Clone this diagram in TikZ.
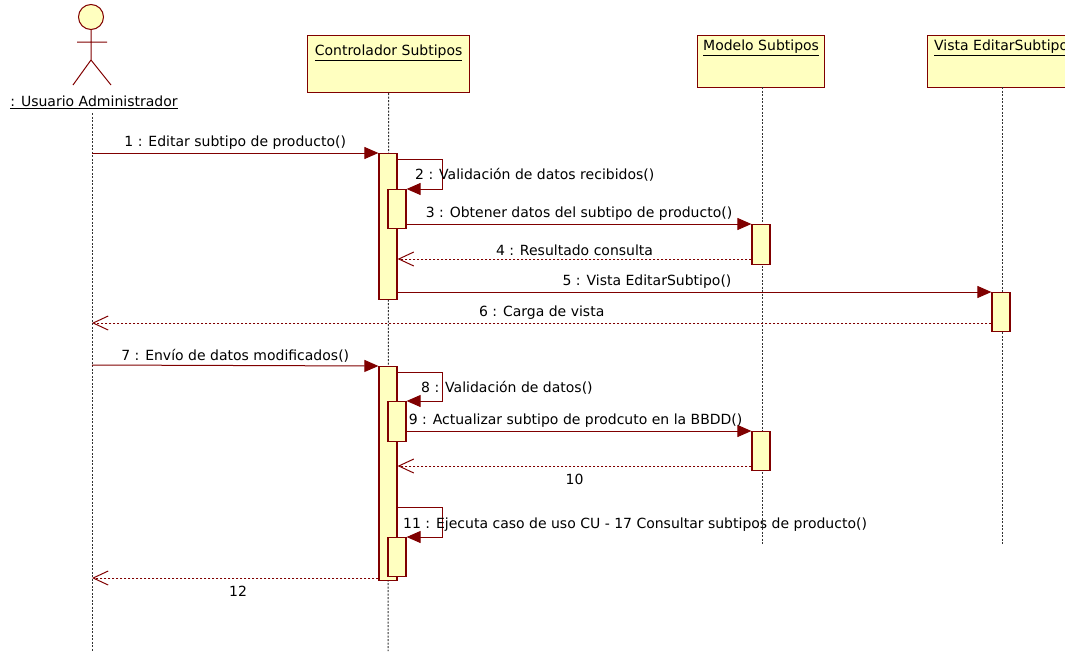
\documentclass[tikz,border=0pt]{standalone}
\usepackage{fontspec}
\setmainfont{DejaVu Sans}
\usetikzlibrary{arrows.meta,positioning}
\definecolor{umlred}{RGB}{128,0,0}
\definecolor{umlfill}{RGB}{255,255,192}
\tikzset{
	objbox/.style={draw=umlred, fill=umlfill, line width=1.2pt, anchor=north west, inner sep=0pt},
	actbox/.style={draw=umlred, fill=umlfill, line width=1.2pt, anchor=north, minimum width=18pt, inner sep=0pt},
	lifeline/.style={line width=1pt, black!80, dash pattern=on 2pt off 1.5pt},
	call/.style={umlred, line width=1pt, -{Triangle[length=14pt,width=12pt]}},
	reply/.style={umlred, line width=1pt, dash pattern=on 2.5pt off 1.5pt, -{Straight Barb[length=15pt,width=14pt,line width=1pt]}},
	lbl/.style={text=black, font=\fontsize{14}{16}\selectfont, inner sep=1pt}
}
\begin{document}
\begin{tikzpicture}[x=1pt,y=-1pt]
	\useasboundingbox (0,0) rectangle (1065,651);
	\clip (0,0) rectangle (1065,651);
	
	%actor
	\draw[umlred, fill=umlfill, line width=1pt] (91,17) circle (12.5);
	\draw[umlred, line width=1pt] (91,30)--(91,60) (77,42)--(107,42) (73,85)--(91,60)--(111,85);
	\node[lbl] (user) at (94,102) {\underline{: Usuario Administrador}};
	
	%objects
	\node[objbox, minimum width=162pt, minimum height=57pt] (ctrl) at (307,35) {};
	\node[lbl, below=9pt of ctrl.north] (ctrltxt) {\underline{Controlador Subtipos}};
	\node[objbox, minimum width=127pt, minimum height=52pt] (modelo) at (697,35) {};
	\node[lbl, below=4pt of modelo.north] (modelotxt) {\underline{Modelo Subtipos}};
	\node[objbox, minimum width=150pt, minimum height=52pt] (vista) at (927,35) {};
	\node[lbl, anchor=north west] (vistatxt) at (933,39) {\underline{Vista EditarSubtipo}};
	
	%lifelines
	\draw[lifeline] (92,113)--(92,651);
	\draw[lifeline] (ctrl.south)--(388,651);
	\draw[lifeline] (762,87)--(762,545);
	\draw[lifeline] (1002,87)--(1002,545);
	
	%activations
	\node[actbox, minimum height=146pt] (c1) at (388,153) {};
	\node[actbox, minimum height=39pt] (c2) at (397,189) {};
	\node[actbox, minimum height=40pt] (m1) at (761,224) {};
	\node[actbox, minimum height=39pt] (v1) at (1001,292) {};
	\node[actbox, minimum height=214pt] (c3) at (388,366) {};
	\node[actbox, minimum height=40pt] (c4) at (397,401) {};
	\node[actbox, minimum height=39pt] (m2) at (761,431) {};
	\node[actbox, minimum height=39pt] (c5) at (397,537) {};
	
	%messages
	\coordinate (u1) at (92,153);
	\coordinate (u2) at (92,323);
	\coordinate (u3) at (92,365);
	\coordinate (u4) at (92,578);
	\draw[call] (u1) -- node[lbl, above=2pt] {1 : Editar subtipo de producto()} (c1.north west);
	\draw[call] (c1.east |- 0,159) -- (442,159) -- (442,189) -- (c2.north east);
	\node[lbl, anchor=west] (t2) at (414,175) {2 : Validación de datos recibidos()};
	\draw[call] (c2.east |- 0,224) -- node[lbl, above=2pt] {3 : Obtener datos del subtipo de producto()} (m1.north west);
	\draw[reply] (m1.west |- 0,259) -- node[lbl, above=2pt] {4 : Resultado consulta} (c1.east |- 0,259);
	\draw[call] (c1.east |- 0,292) -- node[lbl, above=2pt, pos=0.42] {5 : Vista EditarSubtipo()} (v1.north west);
	\draw[reply] (v1.west |- 0,323) -- node[lbl, above=2pt, pos=0.5] {6 : Carga de vista} (u2);
	
	\draw[call] (u3) -- node[lbl, above=2pt] {7 : Envío de datos modificados()} (c3.north west);
	\draw[call] (c3.east |- 0,372) -- (442,372) -- (442,401) -- (c4.north east);
	\node[lbl, anchor=west] (t8) at (420,388) {8 : Validación de datos()};
	\draw[call] (c4.east |- 0,431) -- node[lbl, above=2pt, pos=0.49] {9 : Actualizar subtipo de prodcuto en la BBDD()} (m2.north west);
	\draw[reply] (m2.west |- 0,466) -- node[lbl, below=7pt] {10} (c3.east |- 0,466);
	\draw[call] (c3.east |- 0,507) -- (442,507) -- (442,537) -- (c5.north east);
	\node[lbl, anchor=west] (t11) at (402,525) {11 : Ejecuta caso de uso CU - 17 Consultar subtipos de producto()};
	\draw[reply] (c3.south west |- 0,578) -- node[lbl, below=7pt, pos=0.49] {12} (u4);
\end{tikzpicture}
\end{document}
